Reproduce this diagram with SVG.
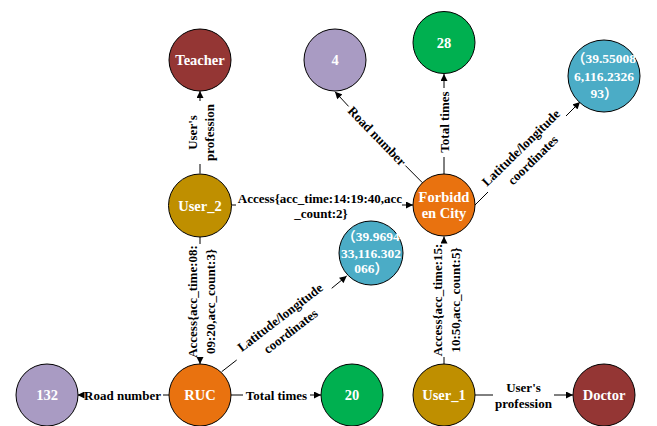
<svg xmlns="http://www.w3.org/2000/svg" width="657" height="426" viewBox="0 0 657 426">
<style>
.n{stroke:#000;stroke-width:1}
.brown{fill:#943634}.lav{fill:#A99BC3}.grn{fill:#00B050}.blue{fill:#4BACC6}.org{fill:#E9720F}.gold{fill:#BF8F00}
.nt{font-family:"Liberation Serif","Noto Sans CJK SC",serif;font-weight:bold;font-size:14.5px;fill:#fff;text-anchor:middle}
.ct{font-family:"Liberation Serif","Noto Sans CJK SC",serif;font-weight:bold;font-size:13.5px;fill:#fff;text-anchor:middle}
.el{font-family:"Liberation Serif",serif;font-weight:bold;font-size:13px;fill:#000;text-anchor:middle}
.e{stroke:#000;stroke-width:1;fill:none}
.a{marker-end:url(#arr)}
</style>
<defs>
<marker id="arr" viewBox="0 0 10 10" refX="10" refY="5" markerWidth="8" markerHeight="7" markerUnits="userSpaceOnUse" orient="auto">
<path d="M0,0 L10,5 L0,10 z" fill="#000"/>
</marker>
</defs>
<g id="connectors">
<!-- User_2 -> Teacher -->
<line class="e" x1="200" y1="173.5" x2="200" y2="164"/>
<line class="e a" x1="200" y1="101" x2="200" y2="91"/>
<g transform="translate(201,132.5) rotate(-90)"><text class="el" y="-4.5">User's</text><text class="el" y="13">profession</text></g>
<!-- Forbidden City -> 4 -->
<line class="e" x1="422.5" y1="182.8" x2="405.4" y2="165.6"/>
<line class="e a" x1="348.6" y1="106.4" x2="335" y2="91.7"/>
<text class="el" transform="translate(377,136) rotate(46)" y="4.5">Road number</text>
<!-- Forbidden City -> 28 -->
<line class="e" x1="444" y1="174" x2="444" y2="157"/>
<line class="e a" x1="444" y1="88" x2="444" y2="74"/>
<text class="el" transform="translate(444,122) rotate(-90)" y="4.5">Total times</text>
<!-- Forbidden City -> coordinates -->
<line class="e" x1="475" y1="205" x2="488" y2="192"/>
<line class="e a" x1="566" y1="116" x2="580" y2="102"/>
<g transform="translate(527,154) rotate(-44.4)"><text class="el" y="-4.3">Latitude/longitude</text><text class="el" y="12.8">coordinates</text></g>
<!-- User_2 -> Forbidden City -->
<line class="e" x1="231.5" y1="205" x2="236" y2="205"/>
<line class="e a" x1="402" y1="205" x2="413" y2="205"/>
<text class="el" x="320" y="202.5">Access{acc_time:14:19:40,acc</text>
<text class="el" x="321" y="217.5">_count:2}</text>
<!-- User_2 -> RUC -->
<line class="e" x1="200" y1="237" x2="200" y2="244"/>
<line class="e a" x1="200" y1="358" x2="200" y2="364"/>
<g transform="translate(201,301.5) rotate(-90)"><text class="el" y="-4.5">Access{acc_time:08:</text><text class="el" y="13.5">09:20,acc_count:3}</text></g>
<!-- RUC -> coordinates -->
<line class="e" x1="221.7" y1="371.7" x2="236.7" y2="360"/>
<line class="e a" x1="331.7" y1="288.3" x2="346.7" y2="276"/>
<g transform="translate(285.5,324.5) rotate(-37.4)"><text class="el" y="-4.5">Latitude/longitude</text><text class="el" y="12.8">coordinates</text></g>
<!-- RUC -> 132 -->
<line class="e" x1="169" y1="395" x2="163" y2="395"/>
<line class="e a" x1="84" y1="395" x2="77.5" y2="395"/>
<text class="el" x="122.5" y="399.5">Road number</text>
<!-- RUC -> 20 -->
<line class="e" x1="231" y1="395" x2="243" y2="395"/>
<line class="e a" x1="310" y1="395" x2="321" y2="395"/>
<text class="el" x="276.5" y="399.5">Total times</text>
<!-- User_1 -> Forbidden City -->
<line class="e" x1="444" y1="364" x2="444" y2="357"/>
<line class="e a" x1="444" y1="243" x2="444" y2="236.5"/>
<g transform="translate(446,300) rotate(-90)"><text class="el" y="-4.5">Access{acc_time:15:</text><text class="el" y="13.5">10:50,acc_count:5}</text></g>
<!-- User_1 -> Doctor -->
<line class="e" x1="475" y1="395" x2="493" y2="395"/>
<line class="e a" x1="554" y1="395" x2="573" y2="395"/>
<text class="el" x="523.5" y="391.5">User's</text>
<text class="el" x="523.5" y="407.5">profession</text>
</g>
<g id="teacher"><circle class="n brown" cx="200" cy="60" r="31"/><text class="nt" x="200" y="65">Teacher</text></g>
<g id="road4"><circle class="n lav" cx="335" cy="60" r="31"/><text class="nt" x="335" y="65">4</text></g>
<g id="times28"><circle class="n grn" cx="444" cy="42.5" r="31"/><text class="nt" x="444" y="47.5">28</text></g>
<g id="coordFC"><circle class="n blue" cx="604" cy="76" r="36"/><text class="ct" x="604" y="63">（39.55008</text><text class="ct" x="604" y="81">6,116.2326</text><text class="ct" x="604" y="98">93）</text></g>
<g id="forbiddenCity"><circle class="n org" cx="444" cy="205" r="31"/><text class="nt" x="444" y="201.5">Forbidd</text><text class="nt" x="444" y="218">en City</text></g>
<g id="user2"><circle class="n gold" cx="200" cy="205.5" r="31.5"/><text class="nt" x="200" y="210.5">User_2</text></g>
<g id="coordRUC"><circle class="n blue" cx="371" cy="253" r="32"/><text class="ct" x="371" y="240.5">（39.9694</text><text class="ct" x="371" y="257.5">33,116.302</text><text class="ct" x="371" y="273">066）</text></g>
<g id="ruc"><circle class="n org" cx="200" cy="395" r="31"/><text class="nt" x="200" y="400">RUC</text></g>
<g id="road132"><circle class="n lav" cx="47" cy="395" r="31"/><text class="nt" x="47" y="400">132</text></g>
<g id="times20"><circle class="n grn" cx="352" cy="395" r="31"/><text class="nt" x="352" y="400">20</text></g>
<g id="user1"><circle class="n gold" cx="444" cy="395" r="31"/><text class="nt" x="444" y="400">User_1</text></g>
<g id="doctor"><circle class="n brown" cx="604" cy="395" r="31"/><text class="nt" x="604" y="400">Doctor</text></g>
</svg>
